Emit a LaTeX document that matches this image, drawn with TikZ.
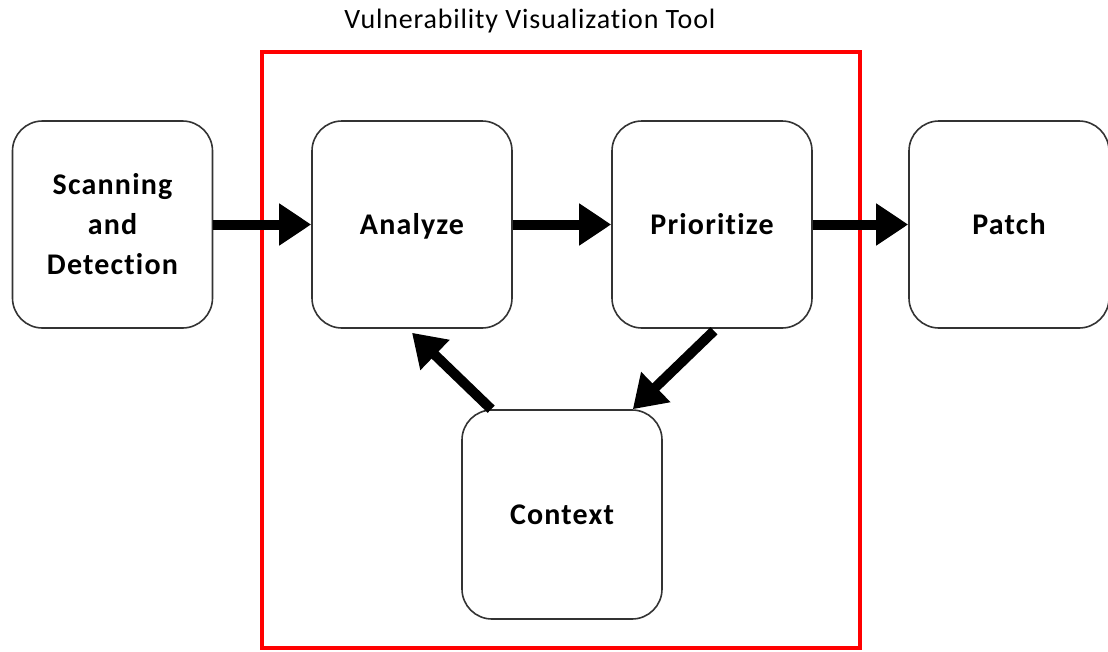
\documentclass[tikz,border=0pt]{standalone}
\usepackage{fontspec}
\setmainfont{Carlito}[Ligatures=NoCommon]
\usetikzlibrary{arrows.meta,calc}
\begin{document}
\begin{tikzpicture}[x=1pt,y=-1pt,
  stage/.style={draw=black!80,line width=1.6pt,rounded corners=30pt,minimum width=200pt,minimum height=207pt,align=center,font=\fontsize{30}{40}\addfontfeatures{LetterSpace=4}\selectfont\bfseries,inner sep=0pt},
  oneline/.style={text height=22pt,text depth=2.4pt},
  flow/.style={line width=10pt,-{Triangle[length=32pt,width=40pt]}}]
\useasboundingbox (0,0) rectangle (1108,651);
\node[draw=red,line width=4pt,minimum width=598pt,minimum height=596pt,inner sep=0pt] (tool) at (561,350) {};
\node[font=\fontsize{28}{30}\addfontfeatures{LetterSpace=3}\selectfont] (title) at (530,21) {Vulnerability Visualization Tool};
\node[stage] (scan) at (112.5,224.5) {Scanning\\and\\Detection};
\node[stage,oneline] (an) at (412,224.5) {Analyze};
\node[stage,oneline] (pr) at (712,224.5) {Prioritize};
\node[stage,oneline] (pa) at (1009,224.5) {Patch};
\node[stage,oneline,minimum height=209pt] (ctx) at (562,514.5) {Context};
\draw[flow] (scan.east) -- (an.west);
\draw[flow] (an.east) -- (pr.west);
\draw[flow] (pr.east) -- (pa.west);
\draw[flow] ($(ctx.north west)+(30,0)$) -- ($(an.south)+(0,4)$);
\draw[flow] ($(pr.south)+(2,2)$) -- ($(ctx.north east)+(-30,0)$);
\end{tikzpicture}
\end{document}
